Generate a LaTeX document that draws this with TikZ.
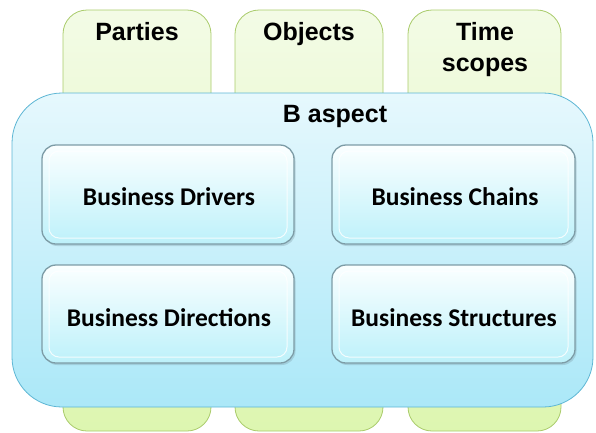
\documentclass[tikz,border=0pt]{standalone}
\usepackage{fontspec}
\setmainfont{Liberation Sans}
\newfontfamily\calfont{Carlito}
\usetikzlibrary{shadows}
\definecolor{grnTop}{HTML}{F3FBE6}
\definecolor{grnBot}{HTML}{DDF6B0}
\definecolor{grnLine}{HTML}{A9CB6A}
\definecolor{bluTop}{HTML}{E6F8FD}
\definecolor{bluBot}{HTML}{ABE8F8}
\definecolor{bluLine}{HTML}{5DB6D4}
\definecolor{boxTop}{HTML}{FBFFFF}
\definecolor{boxBot}{HTML}{BDF1FA}
\definecolor{boxLine}{HTML}{7D9CA6}
\tikzset{
  tab/.style={draw=grnLine, line width=0.8pt, rounded corners=24pt, top color=grnTop, bottom color=grnBot},
  outer/.style={draw=bluLine, line width=0.8pt, rounded corners=50pt, top color=bluTop, bottom color=bluBot},
  inner/.style={draw=boxLine, line width=1.3pt, rounded corners=14pt, top color=boxTop, bottom color=boxBot,
    drop shadow={shadow xshift=1.5pt, shadow yshift=-2pt, opacity=0.35, fill=boxLine}},
  bevel/.style={draw=white, line width=1pt, rounded corners=10pt, opacity=0.8},
  tabtxt/.style={font=\fontsize{25}{31}\selectfont\bfseries, align=center, text=black, anchor=base, inner sep=0pt},
  boxtxt/.style={font=\calfont\fontsize{25.5}{30}\selectfont\bfseries, text=black, anchor=base, inner sep=0pt}
}
\begin{document}
\begin{tikzpicture}[x=1pt,y=-1pt]
\useasboundingbox (0,0) rectangle (596,432);
% tabs
\draw[tab] (63,431) rectangle (211,10);
\draw[tab] (235,431) rectangle (383,10);
\draw[tab] (408,431) rectangle (561,10);
\node[tabtxt] (parties) at (137,40) {Parties};
\node[tabtxt] (objects) at (309,40) {Objects};
\node[tabtxt] (time) at (485,40) {Time};
\node[tabtxt] (scopes) at (485,71) {scopes};
% outer box
\draw[outer] (12,93) rectangle (593,407);
\node[tabtxt] (baspect) at (335,122) {B aspect};
% inner boxes
\draw[inner] (42,145) rectangle (294,244);
\draw[bevel] (49,151) rectangle (287,238);
\node[boxtxt] (drivers) at (169,205) {Business Drivers};
\draw[inner] (332,145) rectangle (575,244);
\draw[bevel] (339,151) rectangle (568,238);
\node[boxtxt] (chains) at (455,205) {Business Chains};
\draw[inner] (42,265) rectangle (294,363);
\draw[bevel] (49,271) rectangle (287,357);
\node[boxtxt] (directions) at (169,326) {Business Directions};
\draw[inner] (332,265) rectangle (575,363);
\draw[bevel] (339,271) rectangle (568,357);
\node[boxtxt] (structures) at (454,326) {Business Structures};
\end{tikzpicture}
\end{document}
